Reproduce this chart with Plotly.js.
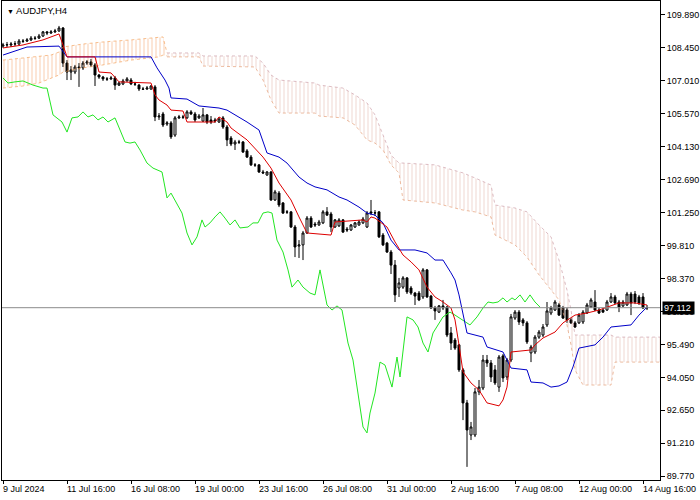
<!DOCTYPE html>
<html><head><meta charset="utf-8">
<script src="https://cdn.plot.ly/plotly-3.0.1.min.js"></script>
<style>html,body{margin:0;padding:0;background:#fff}#chart{width:700px;height:500px}</style>
</head><body><div id="chart"></div>
<script>
const openP = [
108.52,108.57,108.57,108.61,108.61,108.74,108.74,108.79,108.87,108.87,
108.96,109.14,109.09,109.14,109.18,109.31,107.78,107.39,107.39,107.61,
107.57,107.78,107.83,107.70,107.26,107.17,107.09,107.09,107.13,106.82,
106.87,107.00,107.04,106.87,106.82,106.65,106.65,106.65,106.74,105.43,
105.56,105.12,105.17,104.64,105.39,105.43,105.39,105.65,105.56,105.39,
105.25,105.52,105.30,105.30,105.21,105.39,104.99,104.51,104.25,104.34,
104.34,103.95,103.68,103.34,103.34,103.03,102.90,103.03,101.81,102.11,
101.68,101.29,101.29,100.63,99.80,99.85,100.37,101.02,100.76,100.72,
100.81,101.29,101.20,100.63,100.68,100.94,100.54,100.50,100.63,100.72,
100.81,100.63,101.29,101.24,101.29,100.28,99.93,99.54,98.97,97.97,
98.01,98.41,97.97,97.75,97.75,97.58,98.76,97.62,97.10,96.92,
97.19,97.14,96.01,95.70,95.49,94.40,92.96,91.56,91.56,93.44,
93.61,94.83,94.70,94.40,93.65,95.01,94.09,94.83,96.66,96.92,
96.58,96.45,95.14,95.18,95.83,95.92,96.36,96.88,97.01,97.23,
97.10,97.01,96.58,96.45,96.45,96.49,96.88,97.14,97.36,97.01,
97.01,97.01,97.36,97.58,97.36,97.19,97.23,97.71,97.71,97.58,
97.58,97.10];
const highP = [
108.66,108.70,108.70,108.74,108.83,108.83,108.87,108.96,108.96,109.05,
109.18,109.18,109.22,109.27,109.40,109.35,107.91,107.65,107.70,107.78,
107.87,107.91,107.96,107.78,107.30,107.22,107.17,107.22,107.22,106.96,
107.09,107.17,107.13,106.96,106.87,106.74,106.78,106.82,106.82,105.60,
105.65,105.25,105.25,105.47,105.52,105.52,105.73,105.73,105.65,105.56,
105.82,105.56,105.47,105.39,105.43,105.47,105.08,104.60,104.43,104.43,
104.38,104.03,103.77,103.42,103.38,103.12,103.07,103.07,102.25,102.20,
101.72,101.37,101.33,100.72,100.06,100.46,101.11,101.11,100.85,100.94,
101.37,101.50,101.29,100.98,101.02,100.98,100.63,100.76,100.85,100.94,
101.07,101.33,101.81,101.37,101.33,100.37,99.98,99.63,99.19,98.41,
98.49,98.45,98.06,97.80,97.84,98.84,98.80,97.67,97.19,97.23,
97.45,97.19,96.27,95.79,95.53,94.48,93.09,92.13,93.61,93.96,
95.05,95.05,94.83,94.61,95.05,95.09,94.92,96.84,97.01,97.01,
96.66,96.53,95.49,95.92,96.14,96.40,97.36,97.19,97.45,97.32,
97.19,97.10,96.66,96.53,96.88,97.01,97.32,97.54,97.88,97.10,
97.10,97.45,97.75,97.67,97.45,97.45,97.80,97.80,97.84,97.67,
97.75,97.23];
const lowP = [
108.44,108.48,108.48,108.52,108.57,108.66,108.70,108.74,108.79,108.83,
108.92,109.00,109.05,109.09,109.14,107.61,107.04,107.04,107.30,106.74,
107.48,107.70,107.61,106.78,107.09,107.00,107.00,107.04,106.61,106.78,
106.82,106.98,106.82,106.78,106.56,106.61,106.61,106.61,105.25,105.30,
104.99,105.04,104.47,104.56,105.34,105.34,105.34,105.52,105.21,105.34,
105.21,105.12,105.12,105.17,105.17,104.91,104.16,104.16,103.99,104.25,
103.86,103.64,103.29,103.25,102.99,102.94,102.86,101.77,101.77,101.50,
101.20,101.20,100.59,99.32,99.28,99.19,100.33,100.59,100.63,100.68,
100.76,101.11,100.41,100.59,100.63,100.37,100.41,100.46,100.59,100.68,
100.76,100.59,101.15,101.11,100.15,99.80,99.50,98.58,97.36,97.58,
97.93,97.71,97.67,97.23,97.40,97.49,97.54,97.06,96.58,96.88,
97.01,95.83,95.27,95.27,94.31,92.21,90.17,91.34,91.47,93.30,
93.52,94.53,93.87,93.74,93.44,93.87,93.96,94.74,96.58,96.36,
96.31,95.53,94.74,95.09,95.75,95.83,96.27,96.79,96.97,96.75,
96.62,96.45,96.40,96.23,96.40,96.40,96.84,97.10,96.97,96.84,
96.88,96.97,97.32,97.27,96.92,97.14,97.19,96.79,97.27,97.23,
97.06,97.01];
const closeP = [
108.57,108.58,108.61,108.62,108.74,108.73,108.79,108.87,108.86,108.96,
109.14,109.09,109.14,109.18,109.31,107.78,107.39,107.48,107.61,107.57,
107.78,107.83,107.70,107.26,107.17,107.09,107.08,107.13,106.82,106.91,
107.00,107.09,106.87,106.86,106.65,106.64,106.69,106.78,105.43,105.47,
105.08,105.17,104.56,105.39,105.43,105.42,105.65,105.56,105.30,105.47,
105.52,105.21,105.21,105.25,105.34,104.99,104.43,104.25,104.34,104.33,
103.90,103.68,103.34,103.33,103.03,102.99,103.03,101.81,102.16,101.59,
101.24,101.28,100.63,99.76,99.85,100.37,101.02,100.63,100.72,100.85,
101.29,101.15,100.63,100.94,100.94,100.41,100.50,100.72,100.81,100.85,
100.98,101.24,101.24,101.25,100.20,99.85,99.54,98.97,97.67,98.19,
98.41,97.80,97.75,97.62,97.45,98.76,97.58,97.10,96.97,97.19,
97.10,95.92,95.57,95.35,94.40,92.96,91.78,91.91,93.44,93.65,
94.83,94.70,94.09,93.83,94.96,94.05,94.83,96.71,96.92,96.49,
96.45,95.62,95.40,95.83,96.05,96.27,96.97,97.10,97.36,96.79,
96.66,96.58,96.45,96.27,96.79,96.92,97.23,97.45,97.01,96.88,
96.92,97.36,97.58,97.32,97.14,97.36,97.71,97.32,97.36,97.32,
97.10,97.112];

const tenkanX = [0,5,10,13,14,15,16,23,24,27,29,37,38,39,41,42,45,46,53,54,56,57,61,65,67,69,72,74,76,82,83,90,91,92,93,96,98,100,102,104,106,108,110,112,113,114,115,117,119,121,124,125,126,127,132,133,135,138,140,143,146,149,154,158,161];
const tenkanY = [108.44,108.57,108.79,108.96,109.05,108.57,108.05,108.05,107.39,107.35,106.96,106.91,106.39,106.17,105.95,105.73,105.69,105.21,105.21,105.43,105.21,104.95,104.43,103.68,103.20,102.55,101.81,101.07,100.37,100.28,100.85,100.94,100.85,101.07,101.02,100.63,99.98,99.41,99.11,98.76,98.01,97.58,97.36,97.10,96.58,95.49,94.31,93.83,93.52,92.96,92.83,93.09,93.65,95.18,95.27,95.49,95.79,96.05,96.45,96.79,96.88,97.01,97.32,97.32,97.23];

const kijunX = [0,4,6,14,15,16,37,38.5,40.5,41.5,42,46,49,54,56,59,61,64,66,69,71,74,76,78,81,84,86,89,91,93,95,97,99,103,106,108,110,112,113,114,115,116,120,121,125,127,131,132,135,137,139,141,142.5,144,148,150,151,152,157,159,161];
const kijunY = [108.13,108.35,108.48,108.52,108.26,108.05,108.05,107.57,107.04,106.69,106.26,106.21,105.91,105.82,105.73,105.43,105.21,104.86,103.86,103.68,103.42,102.81,102.55,102.38,102.25,101.94,101.81,101.50,101.24,101.15,100.81,100.06,99.63,99.63,99.50,99.19,99.19,98.63,98.32,97.67,96.79,96.01,95.83,95.40,95.18,94.48,94.40,93.87,93.83,93.65,93.70,93.87,94.53,95.35,95.49,95.83,96.05,96.27,96.36,96.79,97.14];

const chikouX = [0,1.25,3,5,7.5,10,11,11.75,12.5,14.75,16,17.25,18.75,20,21.25,22.5,23.75,25,26.25,28,29.25,30.5,31.75,33,34.25,36,37.5,39.75,40,41,42,43,44.75,46,47.25,48.5,49.75,50.5,51.75,53,54.25,55.5,56.75,58,59.25,61.25,62.5,63.75,65,66.25,67.25,68.5,70,71.25,72.25,73.75,75,76.75,78,79.25,81,82.25,83.5,84.75,86.25,87.5,88.75,90,91,91.75,93,94.25,95.5,97.25,98.5,99.25,101,102.5,103.75,105,106.25,107.5,110,111.75,113,115,116.75,118.5,120,121.25,122.5,123.75,125,126,127.25,128,129.25,130.5,131.75,133,134.25];
const chikouY = [107.13,106.91,106.96,107.00,106.82,106.69,106.69,106.04,105.52,105.21,104.77,105.39,105.43,105.65,105.43,105.52,105.30,105.43,105.21,105.39,104.86,104.34,104.29,104.34,103.99,103.42,103.20,103.03,102.81,101.90,102.11,101.81,101.24,100.37,99.85,100.20,100.94,100.63,100.81,101.07,101.29,101.02,100.72,100.94,100.59,100.63,100.81,100.81,101.24,101.29,101.24,100.06,99.54,98.76,98.01,98.32,98.01,97.75,97.67,98.76,97.23,97.01,97.19,97.01,95.57,94.83,93.39,91.91,91.65,92.52,93.39,94.74,94.61,93.65,94.96,94.09,96.71,96.58,96.27,95.57,95.18,96.01,96.71,96.92,96.79,96.58,96.36,96.71,97.10,97.36,97.32,97.36,97.54,97.36,97.54,97.45,97.67,97.36,97.67,97.36,97.14];

const cloud1X = [0,5,9,12,14,15,20,25,32,39,40,41];
const cloud1Top = [107.91,108.00,108.05,108.13,108.26,108.48,108.61,108.70,108.79,108.92,108.92,108.22];
const cloud1Bot = [106.69,106.78,106.91,107.13,107.26,107.39,107.57,107.70,107.91,108.05,108.13,108.09];
const cloud2X = [41,49,50,63,65,67,69,78,79,85,88,91,93,95,97,99,100,108,115,118,122,123,128,131,134,137,139,141,142,143,145,152,153,164.25];
const cloud2Top = [108.22,108.22,108.09,108.09,107.78,107.26,107.04,106.91,106.82,106.69,106.39,106.04,105.52,104.64,103.77,103.42,103.42,103.34,102.99,102.77,102.46,101.59,101.46,101.29,100.72,100.20,99.19,97.88,97.01,95.92,95.92,95.92,95.83,95.83];
const cloud2Bot = [108.05,108.05,107.65,107.61,107.04,106.17,105.60,105.60,105.47,105.39,105.08,104.43,104.29,103.99,103.34,102.99,101.81,101.68,101.37,101.29,101.07,100.28,99.85,99.32,98.54,97.88,97.45,96.36,95.49,94.40,93.74,93.74,94.74,94.74];

const priceTicks = [109.89,108.45,107.01,105.57,104.13,102.69,101.25,99.81,98.37,96.93,95.49,94.05,92.65,91.21,89.77];
const timeTickBars = [0,16,32,48,64,80,96,112,128,144,160];
const timeTickLabels = ["9 Jul 2024","11 Jul 16:00","16 Jul 08:00","19 Jul 00:00","23 Jul 16:00","26 Jul 08:00","31 Jul 00:00","2 Aug 16:00","7 Aug 08:00","12 Aug 00:00","14 Aug 16:00"];
const symbolTitle = "AUDJPY,H4";
const lastPrice = 97.112;

const bars = openP.map((_, i) => i);
const FONT = "Liberation Sans, Arial, sans-serif";

function pat(col) {
  return {shape: '|', fgcolor: col, bgcolor: 'rgba(255,255,255,0)', size: 4, solidity: 0.25, fillmode: 'replace'};
}

const traces = [
  {x: cloud1X, y: cloud1Top, mode: 'lines', line: {color: 'rgba(244,164,96,0.7)', width: 1, dash: 'dot'}, hoverinfo: 'skip'},
  {x: cloud1X, y: cloud1Bot, mode: 'lines', line: {color: 'rgba(244,164,96,0.7)', width: 1, dash: 'dot'}, fill: 'tonexty',
   fillcolor: 'rgba(0,0,0,0)', fillpattern: pat('rgba(242,155,95,0.5)'), hoverinfo: 'skip'},
  {x: cloud2X, y: cloud2Top, mode: 'lines', line: {color: 'rgba(205,160,170,0.7)', width: 1, dash: 'dot'}, hoverinfo: 'skip'},
  {x: cloud2X, y: cloud2Bot, mode: 'lines', line: {color: 'rgba(230,160,120,0.7)', width: 1, dash: 'dot'}, fill: 'tonexty',
   fillcolor: 'rgba(0,0,0,0)', fillpattern: pat('rgba(215,150,135,0.38)'), hoverinfo: 'skip'},
  {type: 'candlestick', x: bars, open: openP, high: highP, low: lowP, close: closeP,
   increasing: {line: {color: '#000', width: 1}, fillcolor: '#fff'},
   decreasing: {line: {color: '#000', width: 1}, fillcolor: '#000'},
   whiskerwidth: 0, hoverinfo: 'skip'},
  {x: chikouX, y: chikouY, mode: 'lines', line: {color: '#22e622', width: 1}, hoverinfo: 'skip'},
  {x: kijunX, y: kijunY, mode: 'lines', line: {color: '#0000c8', width: 1}, hoverinfo: 'skip'},
  {x: tenkanX, y: tenkanY, mode: 'lines', line: {color: '#dd0000', width: 1}, hoverinfo: 'skip'}
];

const annotations = timeTickBars.map((b, i) => ({
  x: b - 0.2, y: 0, xref: 'x', yref: 'paper', xanchor: 'left', yanchor: 'top', yshift: -3,
  text: timeTickLabels[i], showarrow: false, borderpad: 0, font: {family: FONT, size: 9, color: '#000'}
}));
annotations.push({
  x: 0, y: 1, xref: 'paper', yref: 'paper', xanchor: 'left', yanchor: 'top', xshift: 3, yshift: -2,
  text: "<span style='font-size:7px'>▼</span> " + symbolTitle, showarrow: false, font: {family: FONT, size: 9.5, color: '#000'}
});
annotations.push({
  x: 1, y: lastPrice, xref: 'paper', yref: 'y', xanchor: 'left', yanchor: 'middle', xshift: 2,
  text: lastPrice.toFixed(3) + ' ', showarrow: false, bgcolor: '#000', borderpad: 1,
  font: {family: FONT, size: 9, color: '#fff'}
});

const layout = {
  width: 700, height: 500,
  margin: {l: 2, r: 40, t: 1, b: 20},
  paper_bgcolor: '#fff', plot_bgcolor: '#fff',
  showlegend: false,
  xaxis: {
    range: [-0.25, 164.25], showgrid: false, zeroline: false,
    showline: true, mirror: true, linecolor: '#000', linewidth: 1,
    tickmode: 'array', tickvals: timeTickBars, ticks: 'outside', ticklen: 3, tickcolor: '#000',
    showticklabels: false, rangeslider: {visible: false}, fixedrange: true
  },
  yaxis: {
    side: 'right', range: [89.598, 110.487], showgrid: false, zeroline: false,
    showline: true, mirror: true, linecolor: '#000', linewidth: 1,
    tickmode: 'array', tickvals: priceTicks, ticktext: priceTicks.map(v => v.toFixed(3)),
    ticks: 'outside', ticklen: 4, tickcolor: '#000',
    tickfont: {family: FONT, size: 9, color: '#000'}, fixedrange: true
  },
  shapes: [{type: 'line', xref: 'paper', x0: 0, x1: 1, yref: 'y', y0: lastPrice, y1: lastPrice,
            line: {color: '#8c8c8c', width: 1}}],
  annotations: annotations
};

Plotly.newPlot('chart', traces, layout, {staticPlot: true, displayModeBar: false});
</script>
</body></html>
